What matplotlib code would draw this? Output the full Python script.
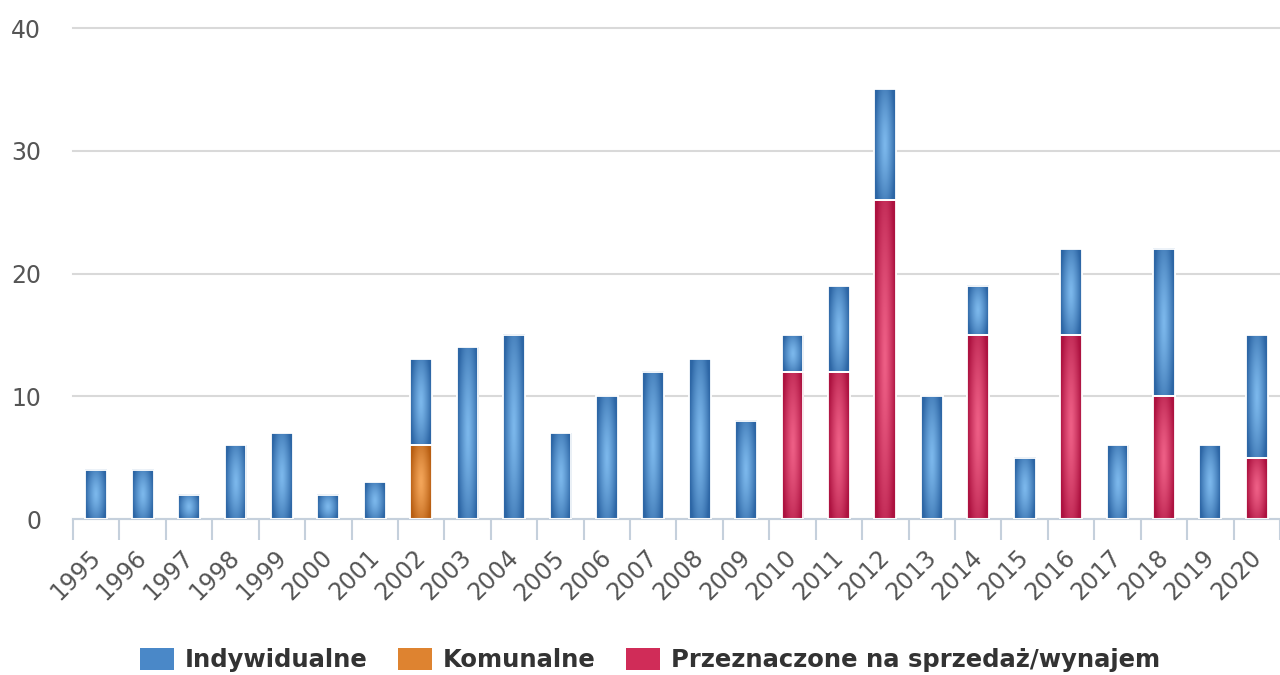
import numpy as np
import matplotlib.pyplot as plt
import matplotlib.transforms as mtransforms
from matplotlib.patches import Patch
from matplotlib.colors import LinearSegmentedColormap

plt.rcParams["font.family"] = ["DejaVu Sans"]

years = [str(y) for y in range(1995, 2021)]
indywidualne = [4, 4, 2, 6, 7, 2, 3, 7, 14, 15, 7, 10, 12, 13, 8, 3, 7, 9, 10, 4, 5, 7, 6, 12, 6, 10]
komunalne = [0, 0, 0, 0, 0, 0, 0, 6, 0, 0, 0, 0, 0, 0, 0, 0, 0, 0, 0, 0, 0, 0, 0, 0, 0, 0]
sprzedaz = [0, 0, 0, 0, 0, 0, 0, 0, 0, 0, 0, 0, 0, 0, 0, 12, 12, 26, 0, 15, 0, 15, 0, 10, 0, 5]

series = [
    ("Przeznaczone na sprzedaż/wynajem", sprzedaz, "#ee5f86", "#ad1240", "#d02c58"),
    ("Komunalne", komunalne, "#f4a65a", "#b85e12", "#de8330"),
    ("Indywidualne", indywidualne, "#7cb8ec", "#2d66a5", "#4a88c8"),
]

fig = plt.figure(figsize=(12.8, 6.75), dpi=100)
ax = fig.add_axes([0.057, 0.231, 0.943, 0.7275])

x = np.arange(len(years))
width = 0.47

# radial gradient image used for each bar segment
u = np.linspace(-1, 1, 40)
v = np.linspace(-1, 1, 80)
U, V = np.meshgrid(u, v)
R = np.clip(np.sqrt(U ** 2 + 0.5 * V ** 2), 0, 1) ** 1.3


def grad_bar(xc, bottom, h, light, dark):
    cmap = LinearSegmentedColormap.from_list("g", [light, dark])
    ax.imshow(R, cmap=cmap, vmin=0, vmax=1.0, aspect="auto", origin="lower",
              extent=(xc - width / 2, xc + width / 2, bottom, bottom + h),
              interpolation="bilinear", zorder=2)
    ax.bar(xc, h, width, bottom=bottom, facecolor="none", edgecolor="white",
           linewidth=1.3, zorder=3)


bottoms = np.zeros(len(years))
for name, vals, light, dark, mid in series:
    for i, val in enumerate(vals):
        if val > 0:
            grad_bar(x[i], bottoms[i], val, light, dark)
    bottoms += np.array(vals)

ax.set_xlim(-0.5, len(years) - 0.5)
ax.set_ylim(0, 40)
ax.set_yticks([0, 10, 20, 30, 40])
ax.yaxis.grid(True, color="#d9d9d9", linewidth=1.5, zorder=0, clip_on=False)
ax.set_axisbelow(True)

for s in ["top", "right", "left"]:
    ax.spines[s].set_visible(False)
ax.spines["bottom"].set_color("#c5d0dc")
ax.spines["bottom"].set_linewidth(1.5)

ax.set_xticks(x)
ax.set_xticklabels(years, rotation=45, ha="right", rotation_mode="anchor",
                   fontsize=17, color="#555555")
ax.set_xticks(np.arange(len(years) + 1) - 0.5, minor=True)
ax.tick_params(axis="x", which="major", length=0, pad=19)
ax.tick_params(axis="x", which="minor", length=15, width=1.5, color="#c5d0dc")
ax.tick_params(axis="y", length=0, pad=23, labelsize=17, labelcolor="#555555")

shift = mtransforms.ScaledTranslation(-0.08, 0, fig.dpi_scale_trans)
for lbl in ax.get_xticklabels():
    lbl.set_transform(lbl.get_transform() + shift)

handles = [Patch(facecolor=s[4], edgecolor="none", label=s[0]) for s in series[::-1]]
fig.legend(handles=handles, loc="center", bbox_to_anchor=(0.508, 0.022), ncol=3,
           frameon=False, prop={"size": 17.5, "weight": "bold"}, labelcolor="#333333",
           handlelength=1.4, handleheight=1.0, handletextpad=0.45, columnspacing=1.25)

fig.savefig("out.png", dpi=100)
